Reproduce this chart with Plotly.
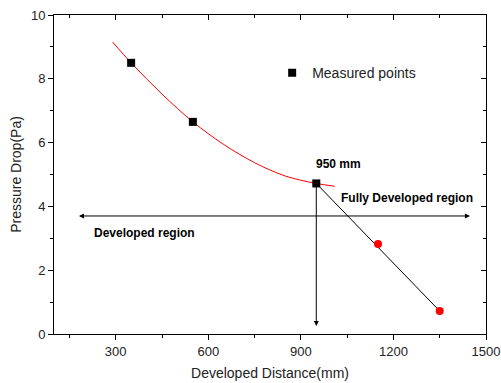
import plotly.graph_objects as go

# Data
measured_x = [350, 550, 950]
measured_y = [8.5, 6.65, 4.72]

extra_x = [1150, 1350]
extra_y = [2.82, 0.72]

fit_x = [290, 350, 400, 450, 500, 550, 600, 650, 700, 750, 800, 850, 900, 950, 1010]
fit_y = [9.15, 8.5, 8.0, 7.52, 7.07, 6.65, 6.28, 5.94, 5.64, 5.37, 5.14, 4.95, 4.82, 4.72, 4.63]

line_x = [950, 1350]
line_y = [4.72, 0.72]

# Annotation arrows (data coords)
h_arrow_y = 3.7
h_arrow_x = [176, 1448]
v_arrow_x = 950
v_arrow_y = [4.72, 0.25]

font_family = "Liberation Sans, Arial, sans-serif"

fig = go.Figure()

fig.add_trace(go.Scatter(x=fit_x, y=fit_y, mode="lines", line=dict(color="red", width=1, shape="spline"),
                         showlegend=False, hoverinfo="skip"))
fig.add_trace(go.Scatter(x=line_x, y=line_y, mode="lines", line=dict(color="black", width=1),
                         showlegend=False))
fig.add_trace(go.Scatter(x=extra_x, y=extra_y, mode="markers",
                         marker=dict(color="red", size=8, symbol="circle"), showlegend=False))
fig.add_trace(go.Scatter(x=measured_x, y=measured_y, mode="markers", name="Measured points",
                         marker=dict(color="black", size=8, symbol="square")))
# empty trace so the mirrored (top/right) axes get drawn
fig.add_trace(go.Scatter(x=[None], y=[None], xaxis="x2", yaxis="y2", mode="markers",
                         showlegend=False, hoverinfo="skip"))

# Horizontal double arrow
fig.add_annotation(x=h_arrow_x[1], y=h_arrow_y, ax=h_arrow_x[0], ay=h_arrow_y,
                   xref="x", yref="y", axref="x", ayref="y", text="", showarrow=True,
                   arrowhead=2, startarrowhead=2, arrowside="end+start", arrowsize=1,
                   arrowwidth=1, arrowcolor="black")
# Vertical arrow
fig.add_annotation(x=v_arrow_x, y=v_arrow_y[1], ax=v_arrow_x, ay=v_arrow_y[0],
                   xref="x", yref="y", axref="x", ayref="y", text="", showarrow=True,
                   arrowhead=2, arrowsize=1, arrowwidth=1, arrowcolor="black")

labels = [
    ("950 mm", 942, 5.33),
    ("Fully Developed region", 1024, 4.26),
    ("Developed region", 222, 3.17),
]
for t, x, y in labels:
    fig.add_annotation(x=x, y=y, xref="x", yref="y", text="<b>%s</b>" % t, showarrow=False,
                       xanchor="left", yanchor="middle",
                       font=dict(family=font_family, size=12, color="black"))

line_common = dict(showline=True, linecolor="black", linewidth=1, showgrid=False, zeroline=False,
                   tickcolor="black", tickwidth=1, ticklen=5, automargin=False)
tickfont = dict(family=font_family, size=13, color="#222")

fig.update_layout(
    width=501, height=383,
    margin=dict(l=54, r=15, t=15, b=49),
    paper_bgcolor="white", plot_bgcolor="white",
    font=dict(family=font_family, color="black"),
    xaxis=dict(range=[100, 1500], tick0=0, dtick=300, ticks="outside", tickfont=tickfont,
               minor=dict(dtick=150, tick0=0, ticks="outside", ticklen=3, tickcolor="black"),
               title=dict(text="Developed Distance(mm)", font=dict(family=font_family, size=14, color="#222"), standoff=10),
               **line_common),
    yaxis=dict(range=[0, 10], tick0=0, dtick=2, ticks="outside", tickfont=tickfont,
               minor=dict(dtick=1, tick0=0, ticks="outside", ticklen=3, tickcolor="black"),
               title=dict(text="Pressure Drop(Pa)", font=dict(family=font_family, size=14, color="#222"), standoff=6),
               **line_common),
    xaxis2=dict(range=[100, 1500], overlaying="x", side="top", tick0=0, dtick=300, ticks="inside",
                minor=dict(dtick=150, tick0=0, ticks="inside", ticklen=3, tickcolor="black"),
                showticklabels=False, anchor="y", **line_common),
    yaxis2=dict(range=[0, 10], overlaying="y", side="right", tick0=0, dtick=2, ticks="inside",
                minor=dict(dtick=1, tick0=0, ticks="inside", ticklen=3, tickcolor="black"),
                showticklabels=False, anchor="x", **line_common),
    legend=dict(x=0.505, y=0.818, xanchor="left", yanchor="middle", bgcolor="rgba(0,0,0,0)",
                font=dict(family=font_family, size=14, color="#222")),
    showlegend=True,
)

fig.write_html("out.html")
